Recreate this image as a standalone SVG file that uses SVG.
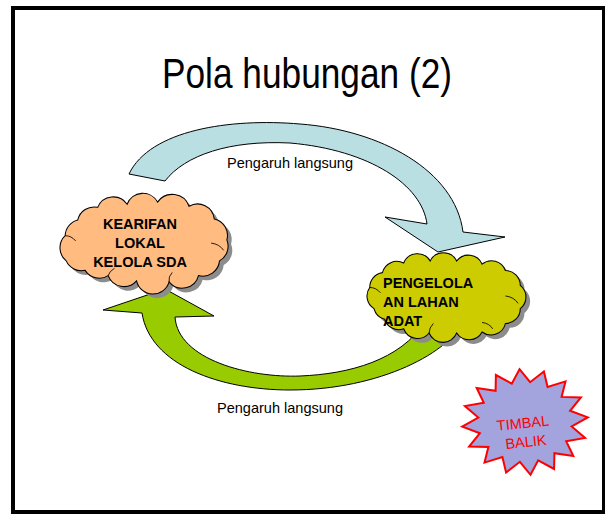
<svg xmlns="http://www.w3.org/2000/svg" width="605" height="514" viewBox="0 0 605 514">
  <defs>
    <style>
      .frame { fill: #ffffff; stroke: #000000; stroke-width: 4; }
      .title { font-family: "Liberation Sans", Arial, sans-serif; font-size: 42px; fill: #000000; }
      .lbl { font-family: "Liberation Sans", Arial, sans-serif; font-size: 14.5px; fill: #000000; }
      .ntext { font-family: "Liberation Sans", Arial, sans-serif; font-size: 14.5px; font-weight: bold; fill: #000000; }
      .stext { font-family: "Liberation Sans", Arial, sans-serif; font-size: 14.5px; fill: #ff0000; text-anchor: middle; }
      .shadow { fill: #8c8c8c; stroke: none; }
      .outline { stroke: #000000; stroke-width: 1; }
      .detail { fill: none; stroke: #000000; stroke-width: 0.8; }
    </style>
    <path id="cloud1" d="M70,260 A16,16 0 0 1 69,236 A16,16 0 0 1 81,221 A16,16 0 0 1 100,209 A16,16 0 0 1 128,206 A16,16 0 0 1 157,204 A17,17 0 0 1 187,208 A16,16 0 0 1 211,220 A16,16 0 0 1 223,240 A16,16 0 0 1 216,260 A16,16 0 0 1 196,274 A16,16 0 0 1 168,280 A16,16 0 0 1 137,279 A16,16 0 0 1 110,274 A16,16 0 0 1 88,269 A16,16 0 0 1 70,260 Z"/>
    <path id="cloud2" d="M378,308 A14,14 0 0 1 374,288 A14,14 0 0 1 386,274 A14,14 0 0 1 406,265 A14,14 0 0 1 431,263 A14,14 0 0 1 456,263 A14,14 0 0 1 480,266 A14,14 0 0 1 502,272 A14,14 0 0 1 516,286 A14,14 0 0 1 516,308 A14,14 0 0 1 502,322 A14,14 0 0 1 480,330 A14,14 0 0 1 456,331 A14,14 0 0 1 430,331 A14,14 0 0 1 406,327 A14,14 0 0 1 388,318 A14,14 0 0 1 378,308 Z"/>
  </defs>

  <rect class="frame" x="13" y="8" width="591" height="504"/>

  <text class="title" x="162" y="88" textLength="290" lengthAdjust="spacingAndGlyphs">Pola hubungan (2)</text>

  <g id="connectors">
    <path id="arrow-top" class="outline" fill="#b9dfe3" d="M129,174 C150,130 230,118 300,124 C380,130 455,170 463,232 L505,237 L438,252 L385,217 L427,224 C422,185 370,150 290,143 C230,140 185,155 165,181 Z"/>
    <path id="arrow-bottom" class="outline" fill="#99cc00" d="M103,310 L165,289 L214,316 L175,317 C178,360 250,378 300,376 C350,374 400,360 425,322 L465,318 C452,352 380,390 290,390 C220,390 150,365 142,313 Z"/>
    <text class="lbl" x="227" y="168" textLength="126" lengthAdjust="spacingAndGlyphs">Pengaruh langsung</text>
    <text class="lbl" x="217" y="413" textLength="126" lengthAdjust="spacingAndGlyphs">Pengaruh langsung</text>
  </g>

  <g id="node-kearifan">
    <g transform="translate(146,242) scale(1.05) translate(-146,-242)">
      <use href="#cloud1" class="shadow" transform="translate(4,4)"/>
      <use href="#cloud1" class="outline" fill="#ffbb80"/>
      <path class="detail" d="M69,236 Q75,236 79,241 M208,243 Q216,244 220,250 M110,274 Q111,270 116,267 M168,280 Q167,275 171,271"/>
    </g>
    <text class="ntext" text-anchor="middle" x="140" y="229">KEARIFAN</text>
    <text class="ntext" text-anchor="middle" x="140" y="248">LOKAL</text>
    <text class="ntext" text-anchor="middle" x="140" y="267">KELOLA SDA</text>
  </g>

  <g id="node-pengelolaan">
    <g transform="translate(445,297) scale(1.06) translate(-445,-297)">
      <use href="#cloud2" class="shadow" transform="translate(4,4)"/>
      <use href="#cloud2" class="outline" fill="#cccc00"/>
      <path class="detail" d="M374,288 Q380,288 384,293 M502,296 Q510,297 514,303 M480,321 Q487,322 490,327 M430,331 Q430,326 434,322"/>
    </g>
    <text class="ntext" x="383" y="288">PENGELOLA</text>
    <text class="ntext" x="383" y="307">AN LAHAN</text>
    <text class="ntext" x="383" y="326">ADAT</text>
  </g>

  <g id="node-timbal-balik">
    <polygon fill="#a3a3dd" stroke="#ff0000" stroke-width="2" stroke-linejoin="miter" points="519.5,369.2 530.1,382.2 543.9,371.5 547.6,386.9 565.5,381.4 561.6,396.9 580.9,397.5 570.1,410.8 587.8,417.4 571.7,426.4 585.1,437.9 566.2,441.2 573.3,456.1 554.4,453.2 554.1,469.0 538.2,460.4 530.5,474.8 519.9,461.8 506.1,472.5 502.4,457.1 484.5,462.6 488.4,447.0 469.1,446.5 479.9,433.2 462.2,426.6 478.3,417.6 464.9,406.1 483.8,402.8 476.7,387.9 495.6,390.8 495.9,375.0 511.8,383.6"/>
    <g transform="rotate(-6 525 434)">
      <text class="stext" x="524" y="428">TIMBAL</text>
      <text class="stext" x="525" y="447">BALIK</text>
    </g>
  </g>
</svg>
